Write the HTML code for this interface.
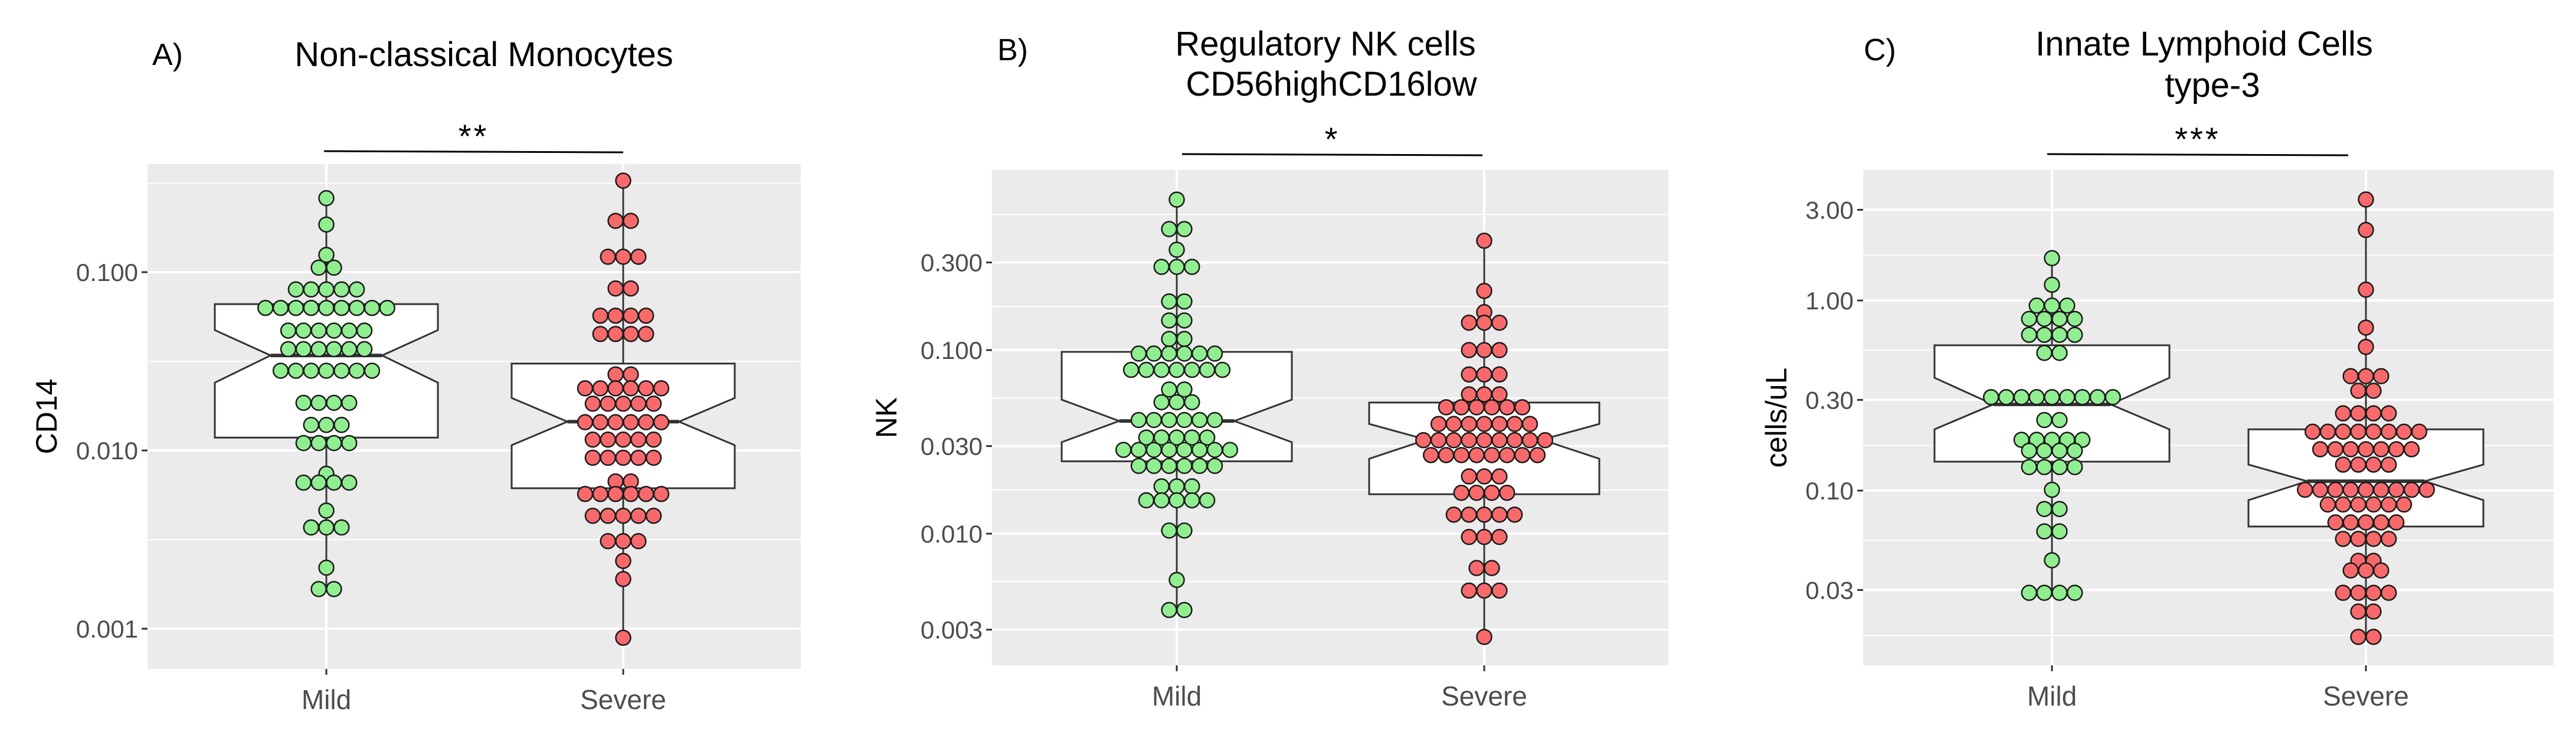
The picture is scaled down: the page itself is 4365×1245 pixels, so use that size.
<!DOCTYPE html>
<html><head><meta charset="utf-8">
<style>
html,body{margin:0;padding:0;background:#fff;}
svg{display:block;}
text{font-family:"Liberation Sans",sans-serif;}
</style></head>
<body>
<svg id="chart" width="4365" height="1245" viewBox="0 0 4365 1245" xmlns="http://www.w3.org/2000/svg"></svg>
<script>
// ---------- Panel A data ----------
const aMildVals = [0.26,0.185,0.125,0.106,0.080,0.063,0.047,0.037,0.028,0.0185,0.0139,0.011,0.0074,0.0066,0.0046,0.0037,0.0022,0.00167];
const aMildCounts = [1,1,1,2,5,9,6,6,7,4,3,4,1,4,1,3,1,2];
const aSevVals = [0.326,0.194,0.122,0.081,0.057,0.045,0.0267,0.0223,0.0183,0.0144,0.0115,0.0091,0.0067,0.0057,0.0043,0.0031,0.0024,0.0019,0.00089];
const aSevCounts = [1,2,3,2,4,4,2,6,5,6,5,5,2,6,5,3,1,1,1];
const aMildBox = [0.0118,0.0341,0.0662,0.0240,0.0473]; // q1, median, q3, notchLo, notchHi
const aSevBox = [0.00614,0.0145,0.0307,0.0107,0.0197];
const aTicks = [0.1,0.01,0.001];
const aTickLabels = ["0.100","0.010","0.001"];
const aMinor = [0.316,0.0316,0.00316];
// ---------- Panel B data ----------
const bMildVals = [0.66,0.456,0.352,0.284,0.184,0.145,0.115,0.0957,0.078,0.061,0.052,0.0416,0.0334,0.0286,0.0234,0.0181,0.0152,0.0104,0.0056,0.00384];
const bMildCounts = [1,2,1,3,2,2,2,6,7,2,3,6,5,8,6,3,5,2,1,2];
const bSevVals = [0.394,0.21,0.161,0.141,0.1,0.0737,0.0574,0.0488,0.0396,0.0323,0.0268,0.0205,0.0167,0.0127,0.0096,0.0065,0.0049,0.00274];
const bSevCounts = [1,1,1,3,3,3,3,6,7,9,8,3,4,5,3,2,3,1];
const bMildBox = [0.0248,0.0411,0.0978,0.0315,0.0537];
const bSevBox = [0.0164,0.0325,0.0518,0.0256,0.0396];
const bTicks = [0.3,0.1,0.03,0.01,0.003];
const bTickLabels = ["0.300","0.100","0.030","0.010","0.003"];
const bMinor = [0.548,0.173,0.0548,0.0173,0.00548];
// ---------- Panel C data ----------
const cMildVals = [1.67,1.21,0.94,0.80,0.66,0.53,0.31,0.235,0.185,0.162,0.133,0.101,0.080,0.061,0.043,0.029];
const cMildCounts = [1,1,3,4,4,2,9,2,5,4,4,1,2,2,1,4];
const cSevVals = [3.40,2.35,1.14,0.72,0.57,0.40,0.335,0.255,0.204,0.165,0.137,0.101,0.0845,0.068,0.0557,0.0427,0.038,0.029,0.0231,0.017];
const cSevCounts = [1,1,1,1,1,3,2,4,8,7,4,9,6,5,4,2,3,4,2,2];
const cMildBox = [0.142,0.284,0.581,0.210,0.392];
const cSevBox = [0.0647,0.112,0.210,0.0891,0.137];
const cTicks = [3,1,0.3,0.1,0.03];
const cTickLabels = ["3.00","1.00","0.30","0.10","0.03"];
const cMinor = [1.732,0.548,0.173,0.0548,0.0173];
const groups = ["Mild","Severe"];

const NS = "http://www.w3.org/2000/svg";
const svg = document.getElementById("chart");
function mk(tag, attrs, parent){
  const e = document.createElementNS(NS, tag);
  for (const k in attrs) e.setAttribute(k, attrs[k]);
  (parent||svg).appendChild(e);
  return e;
}

function panel(cfg){
  const g = mk("g", {});
  
  
  const yOf = v => cfg.yRef - (Math.log10(v) - cfg.logRef) * cfg.dec;
  const xOf = i => cfg.xs[i];
  // background
  const bg = mk("rect", {x:cfg.x0, y:cfg.y0, width:cfg.x1-cfg.x0, height:cfg.y1-cfg.y0, fill:"#EBEBEB"}, g);
  
  
  // minor grid
  cfg.minor.forEach(v => {
    const y = yOf(v); if (y < cfg.y0 || y > cfg.y1) return;
    const l = mk("line", {x1:cfg.x0, x2:cfg.x1, y1:y, y2:y, stroke:"#fff", "stroke-width":2}, g);
    
    
  });
  // major grid + ticks
  cfg.ticks.forEach((v, i) => {
    const y = yOf(v);
    const l = mk("line", {x1:cfg.x0, x2:cfg.x1, y1:y, y2:y, stroke:"#fff", "stroke-width":4}, g);
    
    
    const tk = mk("line", {x1:cfg.x0-10, x2:cfg.x0, y1:y, y2:y, stroke:"#333", "stroke-width":3}, g);
    
    
    const t = mk("text", {x:cfg.x0-16, y:y+15, "text-anchor":"end", "font-size":42, fill:"#4D4D4D"}, g);
    t.textContent = cfg.tickLabels[i];
    
    
  });
  groups.forEach((name, i) => {
    const x = xOf(i);
    const l = mk("line", {x1:x, x2:x, y1:cfg.y0, y2:cfg.y1, stroke:"#fff", "stroke-width":4}, g);
    
    
    const tk = mk("line", {x1:x, x2:x, y1:cfg.y1, y2:cfg.y1+10, stroke:"#333", "stroke-width":3}, g);
    
    
    const t = mk("text", {x:x, y:cfg.y1+68, "text-anchor":"middle", "font-size":46, fill:"#4D4D4D"}, g);
    t.textContent = name;
    
    
  });
  // series
  const series = [[cfg.mildVals, cfg.mildCounts, cfg.mildBox, "#90EE90"], [cfg.sevVals, cfg.sevCounts, cfg.sevBox, "#F8696B"]];
  series.forEach((s, gi) => {
    const [vals, counts, box, col] = s;
    const cx = xOf(gi);
    // whisker
    const ymax = yOf(Math.max(...vals)), ymin = yOf(Math.min(...vals));
    const w = mk("line", {x1:cx, x2:cx, y1:ymax, y2:ymin, stroke:"#333", "stroke-width":3}, g);
    
    
    // notched box
    const hw = cfg.boxHalf, nw = hw/2;
    const yq1 = yOf(box[0]), ym = yOf(box[1]), yq3 = yOf(box[2]), ynl = yOf(box[3]), ynh = yOf(box[4]);
    const pts = [[cx-hw,yq3],[cx+hw,yq3],[cx+hw,ynh],[cx+nw,ym],[cx+hw,ynl],[cx+hw,yq1],[cx-hw,yq1],[cx-hw,ynl],[cx-nw,ym],[cx-hw,ynh]];
    const b = mk("polygon", {points:pts.map(p=>p.join(",")).join(" "), fill:"#fff", stroke:"#333", "stroke-width":3}, g);
    
    
    const md = mk("line", {x1:cx-nw, x2:cx+nw, y1:ym, y2:ym, stroke:"#333", "stroke-width":6}, g);
    
    
    // dots
    vals.forEach((v, ri) => {
      const n = counts[ri], y = yOf(v);
      for (let k = 0; k < n; k++) {
        const x = cx + (k - (n-1)/2) * 25.8;
        const c = mk("circle", {cx:x, cy:y, r:12.5, fill:col, stroke:"#1a1a1a", "stroke-width":2.5}, g);
        
        
      }
    });
  });
  // axis title
  const yt = mk("text", {x:0, y:0, "text-anchor":"middle", "font-size":50, fill:"#000", transform:`translate(${cfg.yTitleX},${(cfg.y0+cfg.y1)/2}) rotate(-90)`}, g);
  yt.textContent = cfg.yTitle;
  
  
  // titles
  cfg.titles.forEach((tt, i) => {
    const t = mk("text", {x:tt[1], y:tt[2], "text-anchor":"middle", "font-size":58, fill:"#000"}, g);
    t.textContent = tt[0];
    
    
  });
  const lt = mk("text", {x:cfg.letter[1], y:cfg.letter[2], "font-size":52, fill:"#000", "font-family":"DejaVu Sans, sans-serif"}, g);
  lt.textContent = cfg.letter[0];
  
  
  // significance
  const sl = mk("line", {x1:cfg.sig[0], x2:cfg.sig[1], y1:cfg.sig[2], y2:cfg.sig[2]+2, stroke:"#000", "stroke-width":3}, g);
  
  
  const st = mk("text", {x:(cfg.sig[0]+cfg.sig[1])/2, y:cfg.sig[2]-6, "text-anchor":"middle", "font-size":56, fill:"#000", "font-family":"DejaVu Sans, sans-serif", "letter-spacing":4}, g);
  st.textContent = cfg.sigText;
  
  
}

panel({id:"a", x0:250, x1:1357, y0:278, y1:1133, yRef:461, logRef:-1, dec:302, xs:[553,1056], boxHalf:189,
  mildVals:aMildVals, mildCounts:aMildCounts, sevVals:aSevVals, sevCounts:aSevCounts, mildBox:aMildBox, sevBox:aSevBox,
  ticks:aTicks, tickLabels:aTickLabels, minor:aMinor, yTitle:"CD14", yTitleX:96,
  titles:[["Non-classical Monocytes",820,112]], letter:["A)",258,110], sig:[549,1056,256], sigText:"**"});
panel({id:"b", x0:1681, x1:2827, y0:288, y1:1127, yRef:593, logRef:-1, dec:311, xs:[1994,2515], boxHalf:195,
  mildVals:bMildVals, mildCounts:bMildCounts, sevVals:bSevVals, sevCounts:bSevCounts, mildBox:bMildBox, sevBox:bSevBox,
  ticks:bTicks, tickLabels:bTickLabels, minor:bMinor, yTitle:"NK", yTitleX:1519,
  titles:[["Regulatory NK cells",2246,94],["CD56highCD16low",2256,162]], letter:["B)",1690,102], sig:[2003,2512,261], sigText:"*"});
panel({id:"c", x0:3157, x1:4327, y0:288, y1:1127, yRef:509, logRef:0, dec:322, xs:[3477,4009], boxHalf:199,
  mildVals:cMildVals, mildCounts:cMildCounts, sevVals:cSevVals, sevCounts:cSevCounts, mildBox:cMildBox, sevBox:cSevBox,
  ticks:cTicks, tickLabels:cTickLabels, minor:cMinor, yTitle:"cells/uL", yTitleX:3027,
  titles:[["Innate Lymphoid Cells",3735,94],["type-3",3749,164]], letter:["C)",3158,102], sig:[3469,3979,261], sigText:"***"});
</script>
</body></html>
